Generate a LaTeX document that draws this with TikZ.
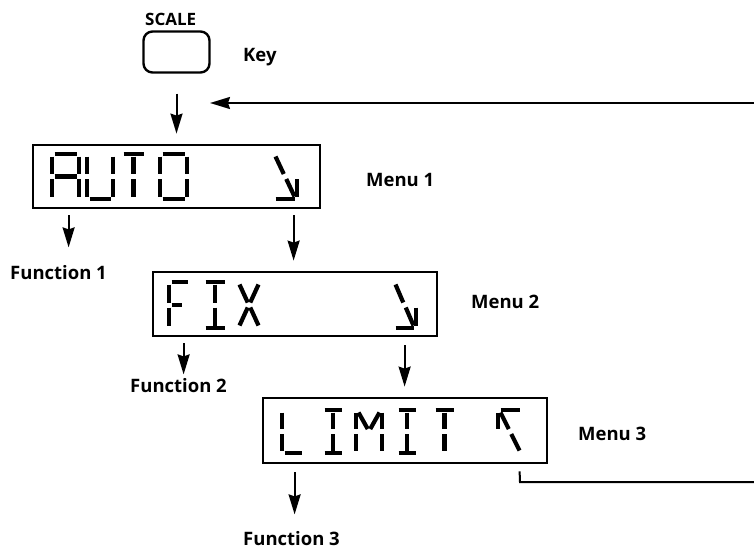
\documentclass[tikz,border=0pt]{standalone}
\usepackage{fontspec}
\setmainfont{Open Sans}
\usetikzlibrary{arrows.meta,calc}

% LCD segment helpers
\def\lcdG{2.5}
\newcommand\lcd[5]{\def\lcdX{#1}\def\lcdY{#2}\def\lcdW{#3}\def\lcdH{#4}\foreach \s in {#5}{\csname lcd@\s\endcsname}}
\expandafter\def\csname lcd@a\endcsname{\draw[lcdseg] (\lcdX+\lcdG,\lcdY) -- (\lcdX+\lcdW-\lcdG,\lcdY);}
\expandafter\def\csname lcd@b\endcsname{\draw[lcdseg] (\lcdX+\lcdW,\lcdY+\lcdG) -- (\lcdX+\lcdW,\lcdY+0.5*\lcdH-\lcdG);}
\expandafter\def\csname lcd@c\endcsname{\draw[lcdseg] (\lcdX+\lcdW,\lcdY+0.5*\lcdH+\lcdG) -- (\lcdX+\lcdW,\lcdY+\lcdH-\lcdG);}
\expandafter\def\csname lcd@d\endcsname{\draw[lcdseg] (\lcdX+\lcdG,\lcdY+\lcdH) -- (\lcdX+\lcdW-\lcdG,\lcdY+\lcdH);}
\expandafter\def\csname lcd@e\endcsname{\draw[lcdseg] (\lcdX,\lcdY+0.5*\lcdH+\lcdG) -- (\lcdX,\lcdY+\lcdH-\lcdG);}
\expandafter\def\csname lcd@f\endcsname{\draw[lcdseg] (\lcdX,\lcdY+\lcdG) -- (\lcdX,\lcdY+0.5*\lcdH-\lcdG);}
\expandafter\def\csname lcd@g\endcsname{\draw[lcdseg] (\lcdX+\lcdG,\lcdY+0.5*\lcdH) -- (\lcdX+\lcdW-\lcdG,\lcdY+0.5*\lcdH);}
\expandafter\def\csname lcd@gl\endcsname{\draw[lcdseg] (\lcdX+\lcdG,\lcdY+0.5*\lcdH) -- (\lcdX+0.6*\lcdW,\lcdY+0.5*\lcdH);}
\expandafter\def\csname lcd@i\endcsname{\draw[lcdseg] (\lcdX+0.5*\lcdW,\lcdY+\lcdG) -- (\lcdX+0.5*\lcdW,\lcdY+0.5*\lcdH-\lcdG);}
\expandafter\def\csname lcd@l\endcsname{\draw[lcdseg] (\lcdX+0.5*\lcdW,\lcdY+0.5*\lcdH+\lcdG) -- (\lcdX+0.5*\lcdW,\lcdY+\lcdH-\lcdG);}
\expandafter\def\csname lcd@h\endcsname{\draw[lcdseg] (\lcdX+\lcdG,\lcdY+\lcdG) -- (\lcdX+0.5*\lcdW-0.5*\lcdG,\lcdY+0.5*\lcdH-\lcdG);}
\expandafter\def\csname lcd@j\endcsname{\draw[lcdseg] (\lcdX+\lcdW-\lcdG,\lcdY+\lcdG) -- (\lcdX+0.5*\lcdW+0.5*\lcdG,\lcdY+0.5*\lcdH-\lcdG);}
\expandafter\def\csname lcd@k\endcsname{\draw[lcdseg] (\lcdX+0.5*\lcdW-0.5*\lcdG,\lcdY+0.5*\lcdH+\lcdG) -- (\lcdX+\lcdG,\lcdY+\lcdH-\lcdG);}
\expandafter\def\csname lcd@m\endcsname{\draw[lcdseg] (\lcdX+0.5*\lcdW+0.5*\lcdG,\lcdY+0.5*\lcdH+\lcdG) -- (\lcdX+\lcdW-\lcdG,\lcdY+\lcdH-\lcdG);}

\begin{document}
\begin{tikzpicture}[x=1pt,y=-1pt,
  lab/.style={font=\bfseries\fontsize{18.5}{22}\selectfont, inner sep=0pt, anchor=base west},
  lcdbox/.style={draw, line width=2.8pt, inner sep=0pt},
  keybox/.style={draw, line width=2.4pt, rounded corners=9pt, inner sep=0pt, minimum width=66pt, minimum height=41pt},
  arr/.style={line width=2pt, -{Stealth[length=20pt,width=12pt,inset=2pt]}},
  plainline/.style={line width=2pt},
  lcdseg/.style={line width=4.2pt, line cap=butt},
]
\useasboundingbox (0,0) rectangle (754,551);

% key
\node[keybox] (key) at (176.5,52) {};
\node[lab, font=\bfseries\fontsize{17}{20}\selectfont] (scale) at (145,26) {SCALE};
\node[lab] (keylab) at (243,62) {Key};

% menu boxes
\node[lcdbox, minimum width=287pt, minimum height=63pt] (m1) at (176.5,176.5) {};
\node[lcdbox, minimum width=284pt, minimum height=64pt] (m2) at (295,304) {};
\node[lcdbox, minimum width=284pt, minimum height=65pt] (m3) at (405,430.5) {};

% AUTO
\lcd{52}{154}{27}{45}{a,b,c,e,f,g}
\lcd{87}{154}{26}{45}{b,c,d,e,f}
\lcd{121}{154}{25}{45}{a,i,l}
\lcd{160}{154}{27}{45}{a,b,c,d,e,f}
\lcd{273}{154}{24}{45}{h,m,c,d}
% FIX
\lcd{169}{282}{21}{46}{a,f,e,gl}
\lcd{203}{282}{24}{46}{a,d,i,l}
\lcd{237}{282}{24}{46}{h,j,k,m}
\lcd{393}{282}{23}{46}{h,m,c,d}
% LIMIT
\lcd{282}{410}{22}{43}{f,e,d}
\lcd{322}{410}{22}{43}{a,d,i,l}
\lcd{356}{410}{26}{43}{f,e,b,c,h,j}
\lcd{396}{410}{22}{43}{a,d,i,l}
\lcd{433}{410}{23}{43}{a,i,l}
\lcd{498}{410}{24}{43}{a,f,h,m}

% labels
\node[lab] (menu1) at (366,186) {Menu 1};
\node[lab] (menu2) at (471,308) {Menu 2};
\node[lab] (menu3) at (578,440) {Menu 3};
\node[lab] (fn1) at (10,279) {Function 1};
\node[lab] (fn2) at (130,392) {Function 2};
\node[lab] (fn3) at (243,545) {Function 3};

% connectors
\draw[arr] ($(key.south)+(0,20)$) -- ($(m1.north)+(0,-10)$);
\draw[arr] ($(m1.south west)+(37,6)$) -- ($(m1.south west)+(37,38)$);
\draw[arr] ($(m1.south west)+(262,6)$) -- ($(m2.north west)+(142,-10)$);
\draw[arr] ($(m2.south west)+(32,6)$) -- ($(m2.south west)+(32,37)$);
\draw[arr] ($(m2.south west)+(253,8)$) -- ($(m3.north west)+(143,-10)$);
\draw[arr] ($(m3.south west)+(33,8)$) -- ($(m3.south west)+(33,50)$);

\coordinate (loopA) at ($(m3.south west)+(258,7)$);
\coordinate (loopB) at (520,482);
\coordinate (loopC) at (754,482);
\draw[plainline] (loopA) -- (loopB) -- (loopC);
\coordinate (fbR) at (754,103);
\coordinate (fbL) at (210,103);
\draw[arr] (fbR) -- (fbL);
\end{tikzpicture}
\end{document}
